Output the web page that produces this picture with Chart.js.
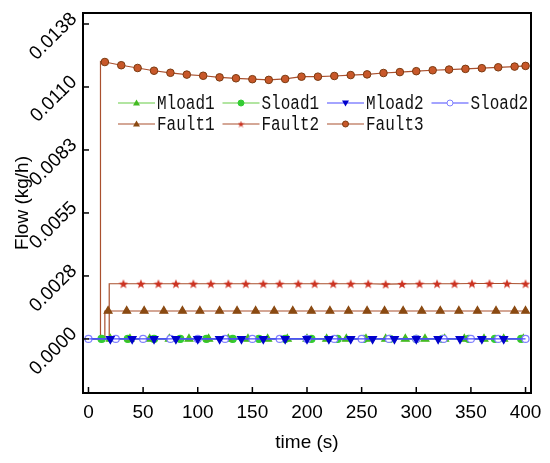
<!DOCTYPE html>
<html lang="en">
<head>
    <meta charset="UTF-8">
    <title>Flow vs time</title>
    <script src="https://cdn.jsdelivr.net/npm/chart.js@4.4.0/dist/chart.umd.min.js"></script>
    <style>
        body {
            margin: 0;
            background-color: #ffffff;
        }
        #wrap {
            width: 550px;
            height: 463px;
        }
    </style>
</head>
<body>
    <div id="wrap">
        <canvas id="flowChart" width="550" height="463"></canvas>
    </div>

    <script>
        // axis ticks
        const xTickVals = [0, 50, 100, 150, 200, 250, 300, 350, 400];
        const yTickVals = [0, 0.00275, 0.0055, 0.00825, 0.011, 0.01375];
        const yTickLabels = ['0.0000', '0.0028', '0.0055', '0.0083', '0.0110', '0.0138'];

        // normal load series (all sit on zero)
        const mload1X = [0, 20, 38, 56, 74, 92, 110, 128, 146, 164, 182, 200, 218, 236, 254, 272, 290, 308, 326, 344, 362, 380, 398];
        const mload1Y = [0, 0, 0, 0, 0, 0, 0, 0, 0, 0, 0, 0, 0, 0, 0, 0, 0, 0, 0, 0, 0, 0, 0];
        const sload1X = [0, 12, 36, 60, 84, 108, 132, 156, 180, 204, 228, 252, 276, 300, 324, 348, 372, 396];
        const sload1Y = [0, 0, 0, 0, 0, 0, 0, 0, 0, 0, 0, 0, 0, 0, 0, 0, 0, 0];
        const mload2X = [0, 20, 40, 60, 80, 100, 120, 140, 160, 180, 200, 220, 240, 260, 280, 300, 320, 340, 360, 380, 400];
        const mload2Y = [0, 0, 0, 0, 0, 0, 0, 0, 0, 0, 0, 0, 0, 0, 0, 0, 0, 0, 0, 0, 0];
        const sload2X = [0, 25, 50, 75, 100, 125, 150, 175, 200, 225, 250, 275, 300, 325, 350, 375, 400];
        const sload2Y = [0, 0, 0, 0, 0, 0, 0, 0, 0, 0, 0, 0, 0, 0, 0, 0, 0];

        // fault series (step up, then plateau)
        const fault1X = [0, 15, 15, 18, 35, 51, 69, 86, 102, 120, 136, 153, 170, 187, 204, 221, 238, 255, 271, 288, 305, 322, 339, 356, 373, 390, 400];
        const fault1Y = [0, 0, 0.00122, 0.00122, 0.00122, 0.00122, 0.00122, 0.00122, 0.00122, 0.00122, 0.00122, 0.00122, 0.00122, 0.00122,
                         0.00122, 0.00122, 0.00122, 0.00122, 0.00122, 0.00122, 0.00122, 0.00122, 0.00122, 0.00122, 0.00122, 0.00122, 0.00122];
        const fault2X = [0, 19, 19, 32, 48, 64, 80, 96, 112, 128, 144, 160, 175, 192, 207, 224, 240, 256, 272, 287, 303, 319, 335, 351, 367, 383, 400];
        const fault2Y = [0, 0, 0.00241, 0.00241, 0.00241, 0.00241, 0.00241, 0.00241, 0.00241, 0.00241, 0.00241, 0.00241, 0.00241, 0.00241,
                         0.00241, 0.00241, 0.00241, 0.00241, 0.00239, 0.00240, 0.00241, 0.00241, 0.00241, 0.00242, 0.00242, 0.00242, 0.00241];
        const fault3X = [0, 11, 11, 15, 30, 45, 60, 75, 90, 105, 120, 135, 150, 165, 180, 195, 210, 225, 240, 255, 270, 285, 300, 315, 330, 345, 360, 375, 390, 400];
        const fault3Y = [0, 0, 0.01212, 0.01209, 0.01195, 0.01183, 0.01171, 0.01162, 0.01154, 0.01149, 0.01142, 0.01138, 0.01134, 0.01131,
                         0.01135, 0.01145, 0.01145, 0.01148, 0.01152, 0.01155, 0.01161, 0.01165, 0.01169, 0.01173, 0.01176, 0.01179,
                         0.01182, 0.01186, 0.01189, 0.01192];

        function pts(xs, ys) {
            return xs.map((x, i) => ({ x: x, y: ys[i] }));
        }

        // filled five point star used as a point style
        function makeStar(size, color) {
            const c = document.createElement('canvas');
            c.width = size;
            c.height = size;
            const g = c.getContext('2d');
            g.fillStyle = color;
            g.beginPath();
            for (let i = 0; i < 10; i++) {
                const r = i % 2 ? size * 0.21 : size / 2;
                const a = -Math.PI / 2 + i * Math.PI / 5;
                g.lineTo(size / 2 + r * Math.cos(a), size / 2 + r * Math.sin(a) + size * 0.05);
            }
            g.closePath();
            g.fill();
            return c;
        }

        const starBig = makeStar(10, '#cc3322');
        const starSmall = makeStar(7, '#cc3322');

        // radius 0 for the listed indices (corner points of the steps)
        function radiusSkip(skip, r) {
            return ctx => skip.includes(ctx.dataIndex) ? 0 : r;
        }

        const faultLine = '#a9502e';
        const greenLine = '#66cc44';
        const blueLine = '#4a4aff';

        const series = [
            { label: 'Mload1', data: pts(mload1X, mload1Y), borderColor: greenLine, pointStyle: 'triangle',
              pointBackgroundColor: '#44bb22', pointBorderColor: '#44bb22', pointRadius: radiusSkip([0], 4.5), order: 3 },
            { label: 'Sload1', data: pts(sload1X, sload1Y), borderColor: greenLine, pointStyle: 'circle',
              pointBackgroundColor: '#33cc33', pointBorderColor: '#33cc33', pointRadius: radiusSkip([0], 3.5), order: 4 },
            { label: 'Mload2', data: pts(mload2X, mload2Y), borderColor: blueLine, pointStyle: 'triangle', pointRotation: 180,
              pointBackgroundColor: '#0000cc', pointBorderColor: '#0000cc', pointRadius: radiusSkip([0, 20], 4.5), order: 1 },
            { label: 'Sload2', data: pts(sload2X, sload2Y), borderColor: blueLine, pointStyle: 'circle',
              pointBackgroundColor: '#ffffff', pointBorderColor: '#8080ff', pointRadius: 3.5, order: 2 },
            { label: 'Fault1', data: pts(fault1X, fault1Y), borderColor: faultLine, pointStyle: 'triangle',
              pointBackgroundColor: '#8a4a12', pointBorderColor: '#8a4a12', pointRadius: radiusSkip([0, 1, 2], 4.5), order: 5 },
            { label: 'Fault2', data: pts(fault2X, fault2Y), borderColor: faultLine, pointStyle: starBig,
              pointBackgroundColor: '#cc3322', pointBorderColor: '#cc3322', pointRadius: radiusSkip([0, 1, 2], 5), order: 6 },
            { label: 'Fault3', data: pts(fault3X, fault3Y), borderColor: faultLine, pointStyle: 'circle',
              pointBackgroundColor: '#c8582a', pointBorderColor: '#7a3a10', pointBorderWidth: 1,
              pointRadius: radiusSkip([0, 1, 2], 3.8), order: 7 }
        ];

        // frame with inward ticks
        const framePlugin = {
            id: 'frame',
            afterDatasetsDraw(chart) {
                const { ctx, chartArea: a, scales } = chart;
                ctx.save();
                ctx.strokeStyle = '#000000';
                ctx.lineWidth = 1.5;
                scales.x.ticks.forEach((t, i) => {
                    const px = scales.x.getPixelForTick(i);
                    ctx.beginPath();
                    ctx.moveTo(px, a.bottom);
                    ctx.lineTo(px, a.bottom - 6);
                    ctx.stroke();
                });
                scales.y.ticks.forEach((t, i) => {
                    const py = scales.y.getPixelForTick(i);
                    ctx.beginPath();
                    ctx.moveTo(a.left, py);
                    ctx.lineTo(a.left + 6, py);
                    ctx.stroke();
                });
                ctx.lineWidth = 2;
                ctx.strokeRect(a.left, a.top, a.right - a.left, a.bottom - a.top);
                ctx.restore();
            }
        };

        function drawMarker(ctx, ds, x, y) {
            const r = 3;
            ctx.fillStyle = ds.pointBackgroundColor;
            ctx.strokeStyle = ds.pointBorderColor;
            ctx.lineWidth = 1;
            if (ds.pointStyle === 'circle') {
                ctx.beginPath();
                ctx.arc(x, y, r, 0, Math.PI * 2);
                ctx.fill();
                ctx.stroke();
            } else if (ds.pointStyle === 'triangle') {
                const s = ds.pointRotation === 180 ? -1 : 1;
                ctx.beginPath();
                ctx.moveTo(x, y - s * 3.6);
                ctx.lineTo(x - 3.5, y + s * 2.6);
                ctx.lineTo(x + 3.5, y + s * 2.6);
                ctx.closePath();
                ctx.fill();
            } else {
                ctx.drawImage(starSmall, x - 3.5, y - 3.5);
            }
        }

        // legend drawn inside the plot, two rows
        const insideLegend = {
            id: 'insideLegend',
            afterDatasetsDraw(chart) {
                const { ctx, chartArea: a } = chart;
                ctx.save();
                chart.data.datasets.forEach((ds, i) => {
                    const row = i < 4 ? 0 : 1;
                    const col = i < 4 ? i : i - 4;
                    const x = a.left + 35 + col * 104.5;
                    const y = a.top + 90 + row * 21;
                    ctx.strokeStyle = ds.borderColor;
                    ctx.lineWidth = 1.2;
                    ctx.beginPath();
                    ctx.moveTo(x, y);
                    ctx.lineTo(x + 37, y);
                    ctx.stroke();
                    drawMarker(ctx, ds, x + 18.5, y);
                    ctx.save();
                    ctx.translate(x + 39, y);
                    ctx.scale(0.8, 1);
                    ctx.fillStyle = '#111111';
                    ctx.font = '20px "Liberation Mono"';
                    ctx.textBaseline = 'middle';
                    ctx.fillText(ds.label, 0, 1);
                    ctx.restore();
                });
                ctx.restore();
            }
        };

        const axisFont = { family: 'Liberation Sans, Arial, sans-serif', size: 19 };

        new Chart(document.getElementById('flowChart'), {
            type: 'line',
            data: {
                datasets: series.map(s => Object.assign({
                    borderWidth: 1.2,
                    fill: false,
                    tension: 0,
                    pointHoverRadius: 4
                }, s))
            },
            options: {
                responsive: false,
                animation: false,
                devicePixelRatio: 1,
                layout: { padding: { top: 13, right: 19, left: 0, bottom: 0 } },
                plugins: {
                    legend: { display: false },
                    tooltip: { enabled: false }
                },
                scales: {
                    x: {
                        type: 'linear',
                        min: -5,
                        max: 405,
                        afterBuildTicks: s => { s.ticks = xTickVals.map(v => ({ value: v })); },
                        afterFit: s => {
                            s.height = 70;
                            s.paddingLeft = 0;
                            s.paddingRight = 0;
                        },
                        grid: { display: false, drawTicks: false },
                        border: { display: false },
                        ticks: { color: '#000000', font: axisFont, padding: 8, maxRotation: 0 },
                        title: { display: true, text: 'time (s)', color: '#000000', font: axisFont, padding: { top: 0, bottom: 9 } }
                    },
                    y: {
                        type: 'linear',
                        min: -0.00236,
                        max: 0.01423,
                        afterBuildTicks: s => { s.ticks = yTickVals.map(v => ({ value: v })); },
                        afterFit: s => {
                            s.width = 83;
                            s.paddingTop = 0;
                            s.paddingBottom = 0;
                        },
                        grid: { display: false, drawTicks: false },
                        border: { display: false },
                        ticks: {
                            color: '#000000',
                            font: axisFont,
                            padding: 9,
                            labelOffset: -8,
                            minRotation: 45,
                            maxRotation: 45,
                            callback: (v, i) => yTickLabels[i]
                        },
                        title: { display: true, text: 'Flow (kg/h)', color: '#000000', font: axisFont, padding: { top: 11, bottom: 0 } }
                    }
                }
            },
            plugins: [framePlugin, insideLegend]
        });
    </script>
</body>
</html>
